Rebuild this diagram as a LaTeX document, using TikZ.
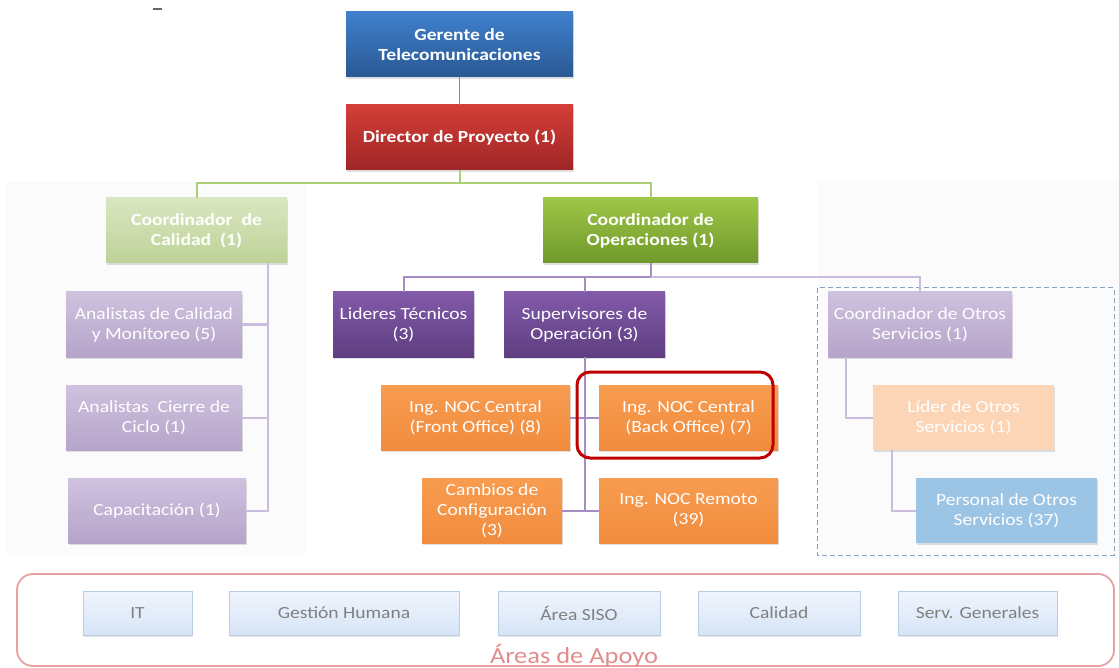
\documentclass[tikz,border=0pt]{standalone}
\usepackage{fontspec}
\setmainfont{Carlito}[FakeStretch=1.15]
\usetikzlibrary{shadows}

% fills
\definecolor{blueT}{RGB}{64,128,204}
\definecolor{blueB}{RGB}{42,88,148}
\definecolor{redT}{RGB}{212,62,56}
\definecolor{redB}{RGB}{158,38,38}
\definecolor{grnT}{RGB}{158,198,70}
\definecolor{grnB}{RGB}{112,152,44}
\definecolor{lgrnT}{RGB}{218,230,192}
\definecolor{lgrnB}{RGB}{190,210,152}
\definecolor{lpurT}{RGB}{206,194,222}
\definecolor{lpurB}{RGB}{182,164,202}
\definecolor{dpurT}{RGB}{130,90,170}
\definecolor{dpurB}{RGB}{94,62,128}
\definecolor{orgT}{RGB}{248,156,80}
\definecolor{orgB}{RGB}{240,140,62}
\definecolor{lorg}{RGB}{251,213,181}
\definecolor{lblu}{RGB}{156,196,228}
\definecolor{supT}{RGB}{240,245,253}
\definecolor{supB}{RGB}{214,228,247}
\definecolor{supE}{RGB}{184,204,230}
% lines and frames
\definecolor{lnRed}{RGB}{222,108,104}
\definecolor{lnGrn}{RGB}{172,206,118}
\definecolor{lnPur}{RGB}{166,142,196}
\definecolor{lnLPur}{RGB}{202,188,222}
\definecolor{hlRed}{RGB}{192,0,0}
\definecolor{dashC}{RGB}{140,162,188}
\definecolor{apoyo}{RGB}{232,160,160}
\definecolor{apoyoTxt}{RGB}{226,140,140}
\definecolor{panel}{RGB}{251,251,251}

\tikzset{
  orgbox/.style={inner sep=0pt, align=center, text=white,
    font=\fontsize{17}{20}\selectfont,
    drop shadow={shadow xshift=1.2pt, shadow yshift=-1.8pt, opacity=0.25}},
  bold/.style={font=\fontsize{17}{20}\selectfont\bfseries},
  gblue/.style={top color=blueT, bottom color=blueB},
  gred/.style={top color=redT, bottom color=redB},
  ggreen/.style={top color=grnT, bottom color=grnB},
  glgreen/.style={top color=lgrnT, bottom color=lgrnB},
  glpurple/.style={top color=lpurT, bottom color=lpurB},
  gdpurple/.style={top color=dpurT, bottom color=dpurB},
  gorange/.style={top color=orgT, bottom color=orgB},
  florange/.style={fill=lorg},
  flblue/.style={fill=lblu},
  supbox/.style={inner sep=0pt, align=center, text=black!50,
    font=\fontsize{17}{20}\selectfont, draw=supE, line width=0.8pt,
    top color=supT, bottom color=supB, minimum height=44pt,
    drop shadow={shadow xshift=1pt, shadow yshift=-1.5pt, opacity=0.2}},
  redln/.style={draw=lnRed, line width=1.5pt},
  grnln/.style={draw=lnGrn, line width=2pt},
  purln/.style={draw=lnPur, line width=2pt},
  lpurln/.style={draw=lnLPur, line width=2pt},
}

\begin{document}
\begin{tikzpicture}[x=1pt,y=-1pt]
\useasboundingbox (0,0) rectangle (1119,668);
\fill[white] (0,0) rectangle (1119,668);

% faint side panels
\fill[panel] (7,182) rectangle (305,556);
\fill[panel] (818,180) rectangle (1119,558);

% small dash at top left
\draw[black!60, line width=1.5pt] (153,9) -- (162,9);

% top management
\node[orgbox, bold, gblue, minimum width=227pt, minimum height=65pt] (g) at (459.5,44.5) {Gerente de\\Telecomunicaciones};
\node[orgbox, bold, gred, minimum width=227pt, minimum height=65pt] (d) at (459.5,137.5) {Director de Proyecto (1)};

% coordinators
\node[orgbox, bold, glgreen, minimum width=181pt, minimum height=65pt] (cq) at (196.5,230.5) {Coordinador~ de\\Calidad~ (1)};
\node[orgbox, bold, ggreen, minimum width=215pt, minimum height=65pt] (co) at (650.5,230.5) {Coordinador de\\Operaciones (1)};

% quality branch
\node[orgbox, glpurple, minimum width=176pt, minimum height=65pt] (aq) at (154,324.5) {Analistas de Calidad\\y Monitoreo (5)};
\node[orgbox, glpurple, minimum width=176pt, minimum height=65pt] (ac) at (154,417.5) {Analistas~ Cierre de\\Ciclo (1)};
\node[orgbox, glpurple, minimum width=178pt, minimum height=65pt] (cap) at (157,510.5) {Capacitación (1)};

% operations branch
\node[orgbox, gdpurple, minimum width=141pt, minimum height=65pt] (lt) at (403.5,324.5) {Lideres Técnicos\\(3)};
\node[orgbox, gdpurple, minimum width=161pt, minimum height=65pt] (sup) at (584.5,324.5) {Supervisores de\\Operación (3)};
\node[orgbox, gorange, minimum width=189pt, minimum height=65pt] (fo) at (475.5,417.5) {Ing. NOC Central\\(Front Office) (8)};
\node[orgbox, gorange, minimum width=179pt, minimum height=65pt] (bo) at (688.5,417.5) {Ing. NOC Central\\(Back Office) (7)};
\node[orgbox, gorange, minimum width=140pt, minimum height=65pt] (cc) at (492,510.5) {Cambios de\\Configuración\\(3)};
\node[orgbox, gorange, minimum width=179pt, minimum height=65pt] (rm) at (688.5,510.5) {Ing. NOC Remoto\\(39)};

% other services
\draw[dashC, line width=1pt, dashed, dash pattern=on 5pt off 3pt] (817,288) rectangle (1114,555);
\node[orgbox, glpurple, minimum width=184pt, minimum height=65pt] (cos) at (920,324.5) {Coordinador de Otros\\Servicios (1)};
\node[orgbox, florange, minimum width=181pt, minimum height=65pt] (lo) at (963.5,417.5) {Líder de Otros\\Servicios (1)};
\node[orgbox, flblue, minimum width=181pt, minimum height=65pt] (po) at (1006.5,510.5) {Personal de Otros\\Servicios (37)};

% connectors
\draw[redln] (g.south) -- (d.north);
\coordinate (gj) at ([yshift=-13pt]d.south);
\draw[grnln] (d.south) -- (gj);
\draw[grnln] (gj) -| (cq.north);
\draw[grnln] (gj) -| (co.north);

\coordinate (cqv) at ([xshift=-19pt]cq.south east);
\draw[lpurln] (cqv) |- (cap.east);
\draw[lpurln] (aq.east) -- (aq.east -| cqv);
\draw[lpurln] (ac.east) -- (ac.east -| cqv);

\coordinate (pj) at ([yshift=-14pt]co.south);
\draw[purln] (co.south) -- (pj);
\draw[purln] (pj) -| (lt.north);
\draw[purln] (pj) -| (sup.north);
\draw[lpurln] (pj) -| (cos.north);
\draw[purln] (pj) -- (pj -| sup.north);

\draw[purln] (sup.south) |- (rm.west);
\draw[purln] (fo.east) -- (bo.west);
\draw[purln] (cc.east) -- (cc.east -| sup.south);

\coordinate (cosv) at ([xshift=18pt]cos.south west);
\draw[lpurln] (cosv) |- (lo.west);
\coordinate (lov) at ([xshift=19pt]lo.south west);
\draw[lpurln] (lov) |- (po.west);

% highlight around back office
\draw[hlRed, line width=3pt, rounded corners=13pt] (577,372) rectangle (773,458);

% support areas
\draw[apoyo, line width=1.8pt, rounded corners=16pt] (17,574) rectangle (1114,666);
\node[supbox, minimum width=109pt] (it) at (137.5,613) {IT};
\node[supbox, minimum width=230pt] (gh) at (344,613) {Gestión Humana};
\node[supbox, minimum width=162pt] (siso) at (579,613) {Área SISO};
\node[supbox, minimum width=162pt] (cal) at (779,613) {Calidad};
\node[supbox, minimum width=159pt] (sg) at (977.5,613) {Serv. Generales};
\node[text=apoyoTxt, font=\fontsize{23}{26}\selectfont, inner sep=0pt] (aa) at (574,656) {Áreas de Apoyo};
\end{tikzpicture}
\end{document}
